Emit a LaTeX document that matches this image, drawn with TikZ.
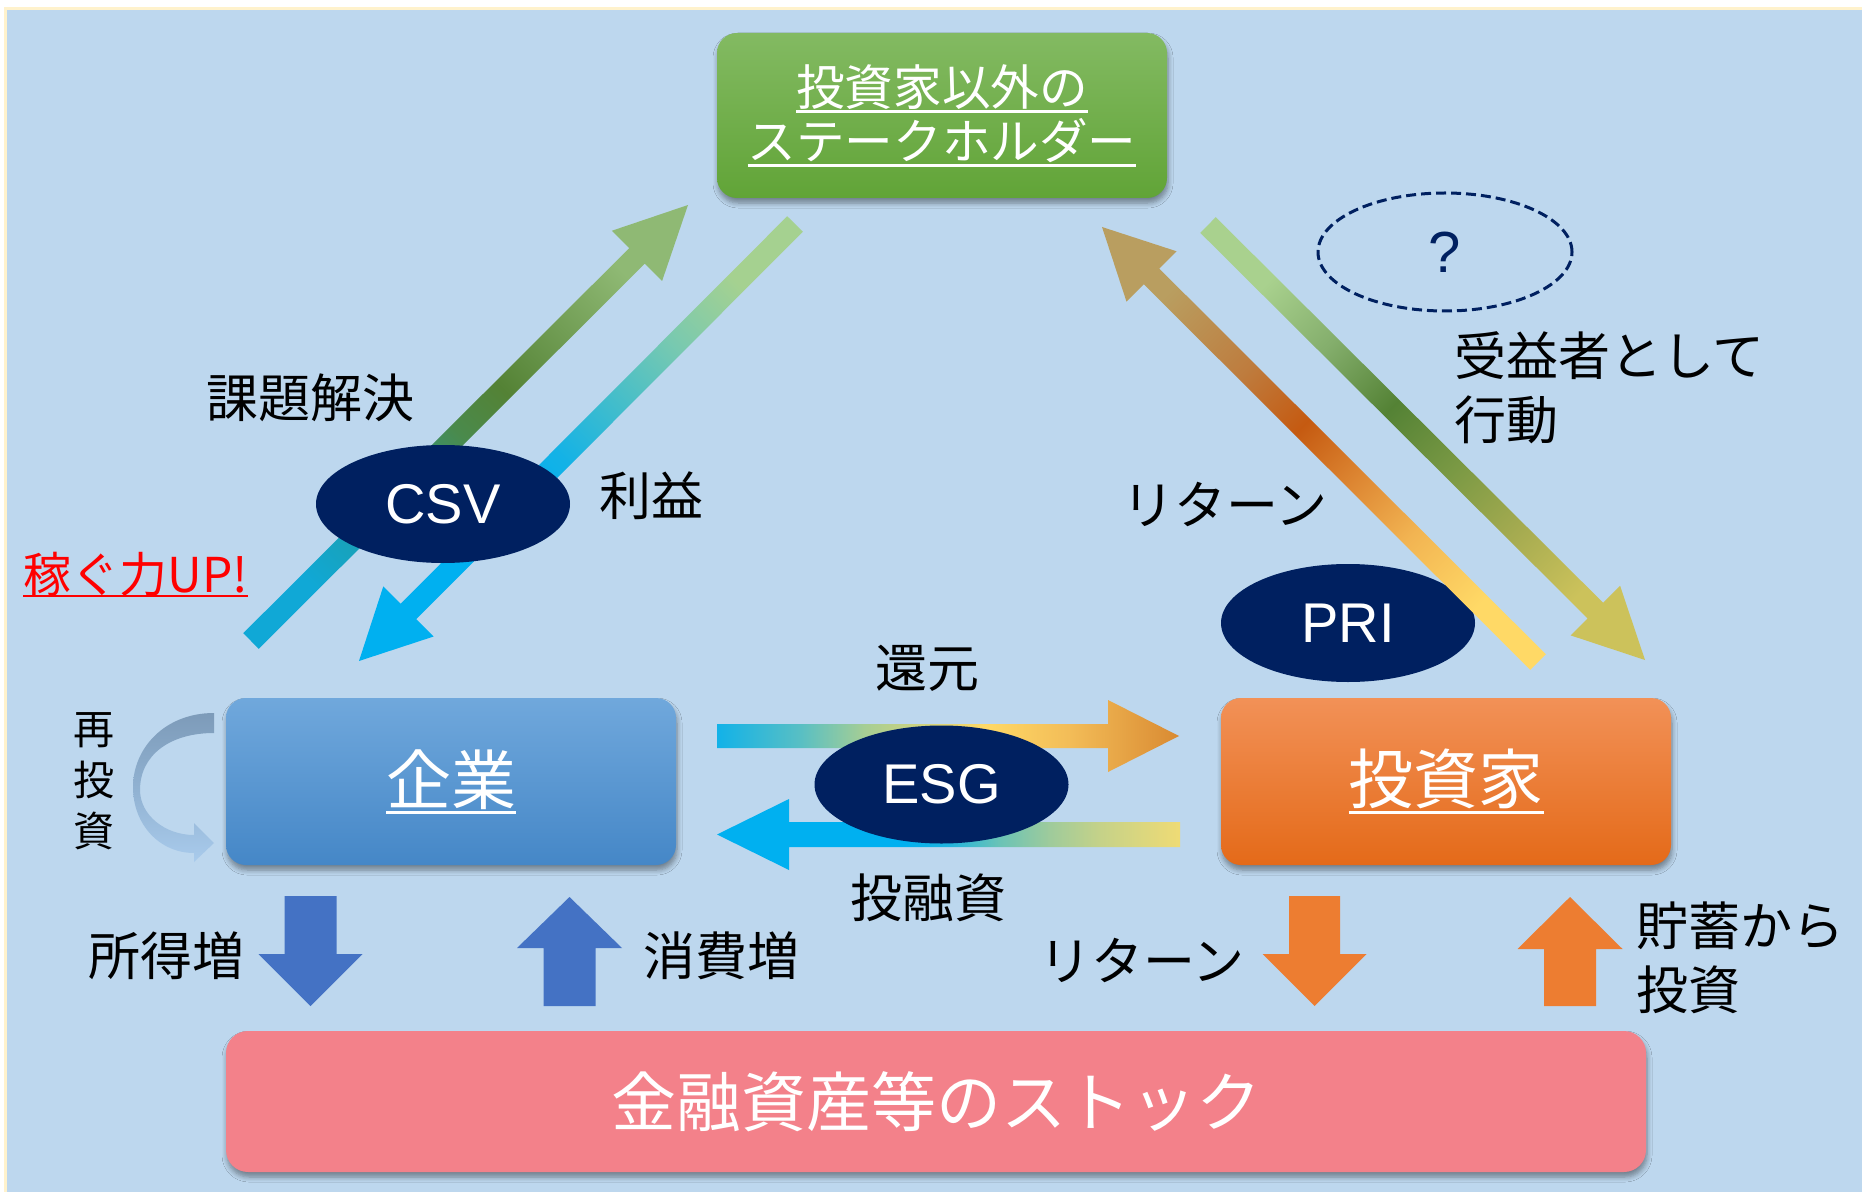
\documentclass[tikz,border=0pt]{standalone}
\usepackage{fontspec}
\setmainfont{Noto Sans CJK JP}
\newfontfamily\latinsf{Liberation Sans}
\usetikzlibrary{calc,shapes.geometric,shadows.blur}

\definecolor{bgblue}{HTML}{BDD7EE}
\definecolor{cream}{HTML}{FFF2CC}
\definecolor{navy}{HTML}{002060}
\definecolor{gTop}{HTML}{83BA62}
\definecolor{gBot}{HTML}{61A437}
\definecolor{bTop}{HTML}{70A8DC}
\definecolor{bBot}{HTML}{4587C7}
\definecolor{oTop}{HTML}{F29157}
\definecolor{oBot}{HTML}{E46A19}
\definecolor{pinkbox}{HTML}{F3818A}
\definecolor{arrBlue}{HTML}{4472C4}
\definecolor{arrOrange}{HTML}{ED7D31}
\definecolor{upRed}{HTML}{FF0000}
\definecolor{riTop}{HTML}{7D9BB9}
\definecolor{riMid}{HTML}{90B1D1}
\definecolor{riBot}{HTML}{A9CBEC}
% CSV up arrow
\definecolor{cuA}{HTML}{10A8D6}
\definecolor{cuB}{HTML}{1E9EA8}
\definecolor{cuC}{HTML}{4A8A4C}
\definecolor{cuD}{HTML}{548235}
\definecolor{cuE}{HTML}{8FB974}
% rieki down arrow
\definecolor{rdA}{HTML}{A5D190}
\definecolor{rdB}{HTML}{78C9B0}
\definecolor{rdC}{HTML}{42BDCB}
\definecolor{rdD}{HTML}{14B2E6}
\definecolor{rdE}{HTML}{00B0F0}
% PRI up arrow
\definecolor{puA}{HTML}{FFD966}
\definecolor{puB}{HTML}{F2B452}
\definecolor{puC}{HTML}{DD8632}
\definecolor{puD}{HTML}{C55A11}
\definecolor{puE}{HTML}{BE7C3E}
\definecolor{puF}{HTML}{B99E60}
% jueki down arrow
\definecolor{jdA}{HTML}{A9D18E}
\definecolor{jdB}{HTML}{84AE6C}
\definecolor{jdC}{HTML}{548235}
\definecolor{jdD}{HTML}{7A9944}
\definecolor{jdE}{HTML}{A5AB50}
\definecolor{jdF}{HTML}{CCC25B}
% ESG right
\definecolor{erA}{HTML}{12B2E8}
\definecolor{erB}{HTML}{58BFC4}
\definecolor{erC}{HTML}{A6CE94}
\definecolor{erD}{HTML}{FFD966}
\definecolor{erE}{HTML}{F3BD58}
\definecolor{erF}{HTML}{D98A32}
% ESG left
\definecolor{elA}{HTML}{EFDB75}
\definecolor{elB}{HTML}{C6D288}
\definecolor{elC}{HTML}{9FCB9B}
\definecolor{elD}{HTML}{6AC3B6}
\definecolor{elE}{HTML}{20B4DE}
\definecolor{elF}{HTML}{00B0F0}

\pgfdeclarehorizontalshading{csvup}{100bp}{color(0bp)=(cuA); color(25bp)=(cuA); color(36bp)=(cuB); color(49bp)=(cuC); color(56bp)=(cuD); color(75bp)=(cuE); color(100bp)=(cuE)}
\pgfdeclarehorizontalshading{riekidn}{100bp}{color(0bp)=(rdA); color(25bp)=(rdA); color(35bp)=(rdB); color(44.5bp)=(rdC); color(53bp)=(rdD); color(60bp)=(rdE); color(100bp)=(rdE)}
\pgfdeclarehorizontalshading{priup}{100bp}{color(0bp)=(puA); color(25bp)=(puA); color(36bp)=(puB); color(45bp)=(puC); color(53.5bp)=(puD); color(62.5bp)=(puE); color(75bp)=(puF); color(100bp)=(puF)}
\pgfdeclarehorizontalshading{juekidn}{100bp}{color(0bp)=(jdA); color(25bp)=(jdA); color(35bp)=(jdB); color(45bp)=(jdC); color(55bp)=(jdD); color(65bp)=(jdE); color(75bp)=(jdF); color(100bp)=(jdF)}
\pgfdeclarehorizontalshading{esgr}{100bp}{color(0bp)=(erA); color(25bp)=(erA); color(34bp)=(erB); color(41bp)=(erC); color(54bp)=(erD); color(63bp)=(erE); color(75bp)=(erF); color(100bp)=(erF)}
\pgfdeclarehorizontalshading{esgl}{100bp}{color(0bp)=(elA); color(25bp)=(elA); color(33.5bp)=(elB); color(39bp)=(elC); color(44.5bp)=(elD); color(50bp)=(elE); color(55bp)=(elF); color(100bp)=(elF)}

\newcommand{\myul}[2][0.15em]{\setbox0=\hbox{#2}\leavevmode\rlap{\rule[-#1]{\wd0}{1.3pt}}\box0}

% #1 path options, #2 tail, #3 tip, #4 shaft half width, #5 head half width, #6 head length
\newcommand{\blockarrow}[6]{%
  \coordinate (ahH) at ($(#3)!#6!(#2)$);
  \path[#1] ($(#2)!#4!90:(#3)$) -- ($(ahH)!#4!90:(#3)$) -- ($(ahH)!#5!90:(#3)$) -- (#3)
    -- ($(ahH)!#5!-90:(#3)$) -- ($(ahH)!#4!-90:(#3)$) -- ($(#2)!#4!-90:(#3)$) -- cycle;
}

\tikzset{
  lbl/.style={font=\fontsize{26pt}{32pt}\selectfont, text=black, inner sep=0pt},
  ell/.style={ellipse, fill=navy, minimum width=127pt, minimum height=59pt, inner sep=0pt,
    text=white, font=\latinsf\fontsize{28pt}{32pt}\selectfont},
  boxshadow/.style={blur shadow={shadow xshift=0.5pt, shadow yshift=-2.5pt,
    shadow blur radius=2.5pt, shadow opacity=40, shadow blur steps=6}},
  bigbox/.style={rounded corners=10pt, inner sep=0pt, text=white, boxshadow,
    font=\fontsize{32.5pt}{36pt}\selectfont},
}

\begin{document}
\begin{tikzpicture}[x=0.5pt,y=-0.5pt]
\useasboundingbox (0,0) rectangle (1862,1192);
\fill[white] (0,0) rectangle (1862,1192);
\fill[cream] (4,7) rectangle (1862,1192);
\fill[bgblue] (7,10) rectangle (1862,1192);

% CSV arrows
\coordinate (c1a) at (251,641); \coordinate (c1b) at (688,205);
\blockarrow{shade, shading=csvup, shading angle=45}{c1a}{c1b}{5.5pt}{17.75pt}{36pt}
\coordinate (c2a) at (795,224); \coordinate (c2b) at (359,661);
\blockarrow{shade, shading=riekidn, shading angle=225}{c2a}{c2b}{5.5pt}{17.75pt}{35pt}

% ESG arrows
\coordinate (e1a) at (717,736); \coordinate (e1b) at (1179,736);
\blockarrow{shade, shading=esgr, shading angle=0}{e1a}{e1b}{6pt}{18pt}{35.5pt}
\coordinate (e2a) at (1180,834.5); \coordinate (e2b) at (717,834.5);
\blockarrow{shade, shading=esgl, shading angle=180}{e2a}{e2b}{6.25pt}{17.75pt}{36pt}

% ellipses
\node[ell] (csv) at (443,504) {CSV};
\node[ell] (esg) at (941.5,784.5) {ESG};
\node[ell] (pri) at (1348,623) {PRI};
\node[ellipse, draw=navy, line width=1.5pt, dash pattern=on 5pt off 2.5pt,
  minimum width=127pt, minimum height=59pt, inner sep=0pt, text=navy,
  font=\latinsf\fontsize{29pt}{32pt}\selectfont] (q) at (1445,252) {?};

% PRI arrows
\coordinate (p1a) at (1538,662); \coordinate (p1b) at (1102,227);
\blockarrow{shade, shading=priup, shading angle=135}{p1a}{p1b}{5.5pt}{17.75pt}{35pt}
\coordinate (p2a) at (1208,225); \coordinate (p2b) at (1645,660);
\blockarrow{shade, shading=juekidn, shading angle=-45}{p2a}{p2b}{5.5pt}{17.5pt}{35pt}

% boxes
\node[bigbox, top color=gTop, bottom color=gBot, minimum width=225pt, minimum height=82.5pt,
  align=center, font=\fontsize{24.3pt}{27pt}\selectfont] (stake) at (942,115.5)
  {\myul{投資家以外の}\\\myul{ステークホルダー}};
\node[bigbox, top color=bTop, bottom color=bBot, minimum width=225pt, minimum height=83.5pt]
  (kigyo) at (451,781.5) {\myul{企業}};
\node[bigbox, top color=oTop, bottom color=oBot, minimum width=225pt, minimum height=83.5pt]
  (toshika) at (1446,781.5) {\myul{投資家}};
\node[bigbox, rounded corners=11pt, fill=pinkbox, minimum width=710pt, minimum height=70.5pt]
  (stock) at (936,1101.5) {金融資産等のストック};

% reinvestment curved arrow
\shade[top color=riTop, bottom color=riBot, middle color=riMid]
  (214,713) .. controls (165,713) and (133,748) .. (133,787)
  .. controls (133,825) and (160,853) .. (194,853) -- (194,862) -- (214,843) -- (194,823)
  -- (194,835) .. controls (165,835) and (140,815) .. (140,790)
  .. controls (140,755) and (170,733) .. (214,733) -- cycle;

% vertical block arrows
\coordinate (v1a) at (310.5,896); \coordinate (v1b) at (310.5,1006);
\blockarrow{fill=arrBlue}{v1a}{v1b}{13pt}{26pt}{26pt}
\coordinate (v2a) at (569.5,1006); \coordinate (v2b) at (569.5,897);
\blockarrow{fill=arrBlue}{v2a}{v2b}{13pt}{26.25pt}{25.5pt}
\coordinate (v3a) at (1314.5,896); \coordinate (v3b) at (1314.5,1006);
\blockarrow{fill=arrOrange}{v3a}{v3b}{12.75pt}{26pt}{26pt}
\coordinate (v4a) at (1570,1006); \coordinate (v4b) at (1570,897);
\blockarrow{fill=arrOrange}{v4a}{v4b}{13pt}{26.25pt}{26pt}

% labels
\node[lbl] (kadai) at (310,398) {課題解決};
\node[lbl] (rieki) at (651,496) {利益};
\node[lbl, text=upRed, font=\fontsize{24pt}{28pt}\selectfont, anchor=base west] (kasegu) at (23,592)
  {\myul[0.11em]{稼ぐ力UP!}};
\node[lbl] (kangen) at (927.5,668) {還元};
\node[lbl] (yushi) at (928.5,898) {投融資};
\node[lbl] (ret1) at (1225,504) {リターン};
\node[lbl, align=left, anchor=west] (jueki) at (1454,388) {受益者として\\行動};
\node[lbl, align=left, anchor=west] (chochiku) at (1636,958) {貯蓄から\\投資};
\node[lbl] (shotoku) at (166,956) {所得増};
\node[lbl] (shohi) at (721,956) {消費増};
\node[lbl] (ret2) at (1142,960) {リターン};
\node[lbl, font=\fontsize{20.5pt}{25.5pt}\selectfont, align=center] (saitoushi) at (94,781) {再\\投\\資};
\end{tikzpicture}
\end{document}
